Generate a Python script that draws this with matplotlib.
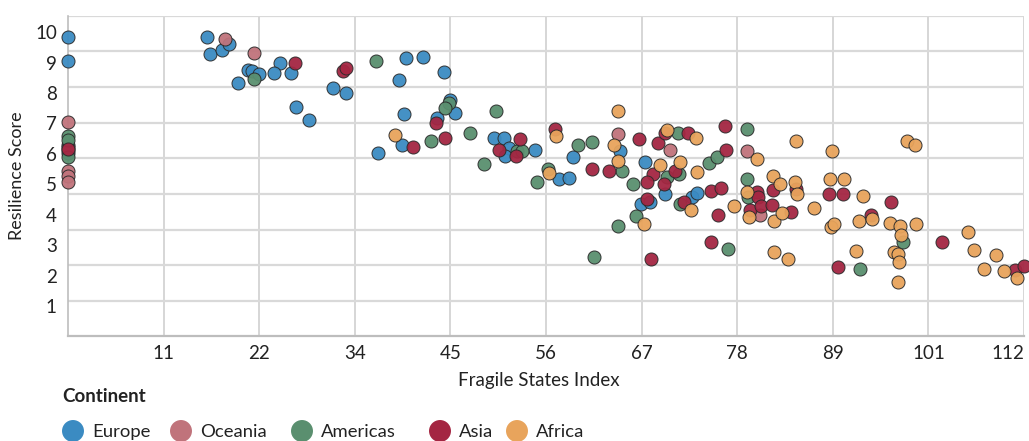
import numpy as np
import matplotlib
matplotlib.use("Agg")
import matplotlib.pyplot as plt

plt.rcParams['font.family'] = ['Lato', 'DejaVu Sans']

# ---- data -------------------------------------------------------------
continents = ["Europe", "Oceania", "Americas", "Asia", "Africa"]
colors = {"Europe": "#3b8bc2", "Oceania": "#c0737b", "Americas": "#5a8f6f",
          "Asia": "#a42642", "Africa": "#e8a45c"}

europe_fsi = [0, 0, 0, 0, 16.2, 16.6, 18.0, 18.8, 24.8, 21.1, 21.5, 22.3, 24.1, 26.1,
              19.9, 26.7, 28.2, 31.0, 32.5, 39.5, 41.5, 44.0, 38.7, 39.3, 44.7, 45.3,
              43.1, 39.1, 36.3, 49.8, 51.0, 51.6, 51.1, 54.6, 57.4, 58.6, 59.1, 64.6,
              67.5, 69.8, 67.0, 68.1, 73.0, 73.6]
europe_res = [9.85, 9.06, 6.29, 6.03, 9.85, 9.27, 9.41, 9.61, 8.97, 8.77, 8.72, 8.62,
              8.66, 8.66, 8.32, 7.55, 7.11, 8.18, 7.99, 9.16, 9.19, 8.68, 8.42, 7.31,
              7.77, 7.35, 7.18, 6.29, 6.03, 6.52, 6.52, 6.19, 5.94, 6.12, 5.16, 5.20,
              5.88, 6.09, 5.74, 4.67, 4.34, 4.41, 4.57, 4.70]

oceania_fsi = [0, 0, 0, 0, 0, 0, 18.4, 21.8, 64.3, 70.4, 79.4, 80.9]
oceania_res = [7.05, 6.22, 6.12, 5.43, 5.28, 5.07, 9.78, 9.30, 6.64, 6.12, 6.09, 3.98]

americas_fsi = [0, 0, 0, 21.8, 36.0, 44.6, 44.1, 50.1, 42.5, 47.0, 52.5, 53.1, 48.7,
                54.9, 56.1, 59.6, 61.3, 64.8, 71.3, 66.1, 70.0, 71.4, 71.6, 66.4, 64.3,
                61.5, 75.0, 75.9, 77.2, 79.4, 79.4, 79.5, 92.6, 97.6]
americas_res = [6.58, 6.45, 5.88, 8.47, 9.05, 7.68, 7.52, 7.40, 6.43, 6.67, 6.09, 6.09,
                5.65, 5.06, 5.49, 6.28, 6.39, 5.44, 6.67, 5.02, 5.23, 5.34, 4.34, 3.95,
                3.64, 2.62, 5.69, 5.89, 2.86, 6.82, 5.16, 4.57, 2.22, 3.11]

asia_fsi = [0, 26.6, 32.2, 32.5, 43.0, 40.3, 44.1, 52.9, 50.4, 52.4, 57.0, 61.3, 63.3,
            66.8, 69.0, 69.8, 72.5, 68.4, 71.0, 67.7, 69.7, 67.7, 72.0, 68.2, 76.8,
            77.0, 75.2, 76.4, 76.0, 75.2, 80.6, 82.5, 85.1, 80.7, 79.8, 81.0, 82.3,
            84.6, 89.0, 90.6, 96.3, 93.9, 90.0, 102.2, 110.8, 111.8]
asia_res = [6.16, 9.00, 8.72, 8.82, 7.02, 6.23, 6.53, 6.48, 6.12, 5.94, 6.82, 5.49, 5.44,
            6.48, 6.37, 6.67, 6.67, 5.35, 5.43, 5.06, 5.02, 4.53, 4.42, 2.53, 6.91,
            6.12, 4.78, 4.87, 3.99, 3.11, 4.75, 4.82, 4.83, 4.57, 4.15, 4.27, 4.33,
            4.08, 4.69, 4.69, 4.43, 4.00, 2.27, 3.10, 2.19, 2.31]

africa_fsi = [38.2, 57.1, 56.3, 64.3, 63.9, 64.3, 70.0, 73.4, 69.2, 71.6, 73.6, 72.9,
              67.4, 77.9, 80.6, 85.1, 89.3, 98.1, 99.1, 82.5, 83.3, 85.0, 85.2, 89.1,
              90.8, 79.4, 93.0, 79.6, 82.6, 83.5, 87.2, 89.2, 89.6, 92.5, 94.0, 96.1,
              97.3, 99.2, 97.4, 82.6, 84.2, 92.1, 96.6, 97.1, 97.2, 97.1, 105.3, 105.9,
              108.5, 107.1, 109.5, 111.0]
africa_res = [6.62, 6.58, 5.36, 7.40, 6.28, 5.78, 6.78, 6.53, 5.64, 5.74, 5.41, 4.14,
              3.69, 4.28, 5.83, 6.43, 6.09, 6.43, 6.28, 5.27, 5.01, 5.08, 4.68, 5.16,
              5.16, 4.74, 4.61, 3.94, 3.79, 4.04, 4.23, 3.59, 3.69, 3.79, 3.85, 3.74,
              3.63, 3.69, 3.33, 2.76, 2.54, 2.81, 2.77, 2.72, 2.43, 1.79, 3.44, 2.85,
              2.67, 2.23, 2.14, 1.93]

series = {
    "Europe": (europe_fsi, europe_res),
    "Oceania": (oceania_fsi, oceania_res),
    "Americas": (americas_fsi, americas_res),
    "Asia": (asia_fsi, asia_res),
    "Africa": (africa_fsi, africa_res),
}

x_max = 111.8
y_max = 10.54

# ---- figure -----------------------------------------------------------
W, H = 1029, 441
fig = plt.figure(figsize=(W / 100, H / 100), dpi=100)
ax = fig.add_axes([68 / W, 1 - 336.4 / H, (1024 - 68) / W, (336.4 - 15.7) / H])

ax.set_xlim(0, x_max)
ax.set_ylim(0, y_max)

# grid lines
x_grid = np.linspace(0, x_max, 11)[1:]
for gx in x_grid:
    ax.axvline(gx, color="#d0d0d0", lw=1.2, zorder=0)
for gy in np.linspace(0, y_max, 10)[1:]:
    ax.axhline(gy, color="#d9d9d9", lw=1.6, zorder=0)

for name in continents:
    xs, ys = series[name]
    ax.scatter(xs, ys, s=88, color=colors[name], edgecolor="#2b2b2b",
               linewidth=0.7, alpha=0.95, zorder=3, clip_on=False)

ax.set_xticks(x_grid)
ax.set_xticklabels([f"{v:.0f}" for v in x_grid])
ax.get_xticklabels()[-1].set_horizontalalignment("right")
ax.set_yticks(range(1, 11))
ax.set_yticklabels([str(v) for v in range(1, 11)])
ax.tick_params(axis="both", length=0, labelsize=13.5, colors="#222222")
ax.tick_params(axis="x", pad=6)
ax.tick_params(axis="y", pad=8)

for s in ["top", "right"]:
    ax.spines[s].set_visible(False)
ax.spines["left"].set_color("#bdbdbd")
ax.spines["left"].set_linewidth(1.2)
ax.spines["bottom"].set_color("#bdbdbd")
ax.spines["bottom"].set_linewidth(1.6)

ax.set_xlabel("Fragile States Index", fontsize=13.5, color="#222222")
ax.xaxis.set_label_coords(0.4927, -0.112)
ax.set_ylabel("Resilience Score", fontsize=13, color="#222222")
ax.yaxis.set_label_coords(-0.045, 0.5)

# ---- legend -----------------------------------------------------------
ov = fig.add_axes([0, 0, 1, 1], facecolor="none")
ov.set_xlim(0, W)
ov.set_ylim(H, 0)
ov.axis("off")
ov.text(62, 397, "Continent", fontsize=13.5, fontweight="bold", color="#222222",
        va="center", ha="left")
leg_circle_x = [73, 181, 302, 440, 517]
for cx, name in zip(leg_circle_x, continents):
    ov.scatter([cx], [431], s=250, color=colors[name], edgecolor="none", clip_on=False)
    ov.text(cx + 19, 432, name, fontsize=13.3, color="#222222", va="center", ha="left")

fig.savefig("out.png", dpi=100)
